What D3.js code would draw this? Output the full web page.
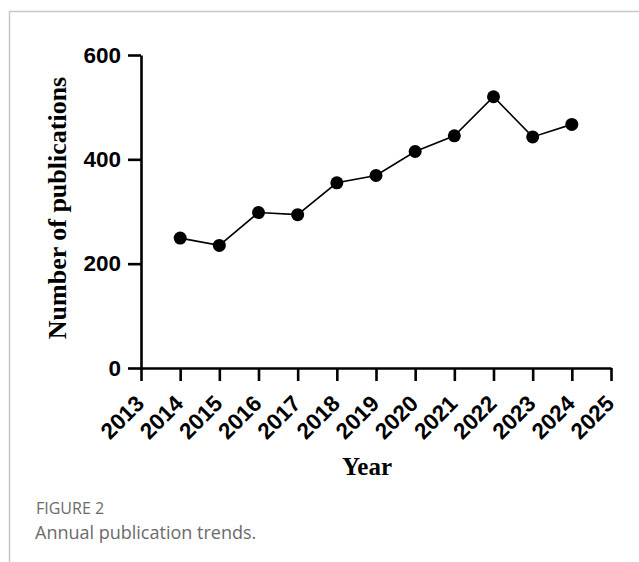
<!DOCTYPE html>
<html>
<head>
<meta charset="utf-8">
<script src="https://cdn.jsdelivr.net/npm/d3@7"></script>
<style>
    body { margin: 0; background: #fff; }
    svg { display: block; }
</style>
</head>
<body>
<div id="chart"></div>
<script>
var years = [2014, 2015, 2016, 2017, 2018, 2019, 2020, 2021, 2022, 2023, 2024];
var publications = [249, 235, 298, 294, 355, 369, 415, 445, 520, 443, 467];
var xTickYears = [2013, 2014, 2015, 2016, 2017, 2018, 2019, 2020, 2021, 2022, 2023, 2024, 2025];
var yTicks = [0, 200, 400, 600];

var width = 639, height = 562;

var svg = d3.select('#chart').append('svg')
    .attr('width', width)
    .attr('height', height);

// frame lines of the figure panel
svg.append('path')
    .attr('d', 'M9.5,' + height + 'V11.5H' + width)
    .attr('fill', 'none')
    .attr('stroke', '#c8c8c8')
    .attr('stroke-width', 1.5);

var x = d3.scaleLinear().domain([2013, 2025]).range([141, 611]);
var y = d3.scaleLinear().domain([0, 600]).range([368, 55]);

var tickFont = '"Liberation Sans", Arial, sans-serif';
var titleFont = '"Liberation Serif", "Times New Roman", serif';

var yAxis = svg.append('g')
    .attr('transform', 'translate(' + x(2013) + ',0)')
    .call(d3.axisLeft(y).tickValues(yTicks).tickSize(13).tickPadding(7).tickSizeOuter(0));

var xAxis = svg.append('g')
    .attr('transform', 'translate(0,' + y(0) + ')')
    .call(d3.axisBottom(x).tickValues(xTickYears).tickFormat(d3.format('d')).tickSize(13).tickSizeOuter(0));

[yAxis, xAxis].forEach(function (ax) {
    ax.select('.domain').attr('stroke', '#000').attr('stroke-width', 2.6);
    ax.selectAll('.tick line').attr('stroke', '#000').attr('stroke-width', 2.6);
    ax.selectAll('text')
        .attr('fill', '#000')
        .style('font-family', tickFont)
        .style('font-weight', 'bold')
        .style('font-size', '22.5px');
});

xAxis.selectAll('.tick text')
    .attr('text-anchor', 'end')
    .attr('x', 0)
    .attr('y', 0)
    .attr('dy', '0')
    .attr('transform', 'translate(4,37) rotate(-45)');

// line and dots
var line = d3.line()
    .x(function (d, i) { return x(years[i]); })
    .y(function (d) { return y(d); });

svg.append('path')
    .datum(publications)
    .attr('d', line)
    .attr('fill', 'none')
    .attr('stroke', '#000')
    .attr('stroke-width', 1.6);

svg.selectAll('circle.dot')
    .data(publications)
    .enter().append('circle')
        .attr('class', 'dot')
        .attr('cx', function (d, i) { return x(years[i]); })
        .attr('cy', function (d) { return y(d); })
        .attr('r', 6.5)
        .attr('fill', '#000');

// axis titles
svg.append('text')
    .attr('transform', 'translate(66,208) rotate(-90)')
    .attr('text-anchor', 'middle')
    .style('font-family', titleFont)
    .style('font-weight', 'bold')
    .style('font-size', '26px')
    .text('Number of publications');

svg.append('text')
    .attr('x', 367)
    .attr('y', 475)
    .attr('text-anchor', 'middle')
    .style('font-family', titleFont)
    .style('font-weight', 'bold')
    .style('font-size', '25px')
    .text('Year');

// caption
svg.append('text')
    .attr('x', 36)
    .attr('y', 514)
    .attr('fill', '#6b6b6b')
    .style('font-family', '"Open Sans", sans-serif')
    .style('font-size', '16px')
    .text('FIGURE 2');

svg.append('text')
    .attr('x', 35)
    .attr('y', 539)
    .attr('fill', '#6b6b6b')
    .style('font-family', '"Open Sans", sans-serif')
    .style('font-size', '18px')
    .text('Annual publication trends.');
</script>
</body>
</html>
